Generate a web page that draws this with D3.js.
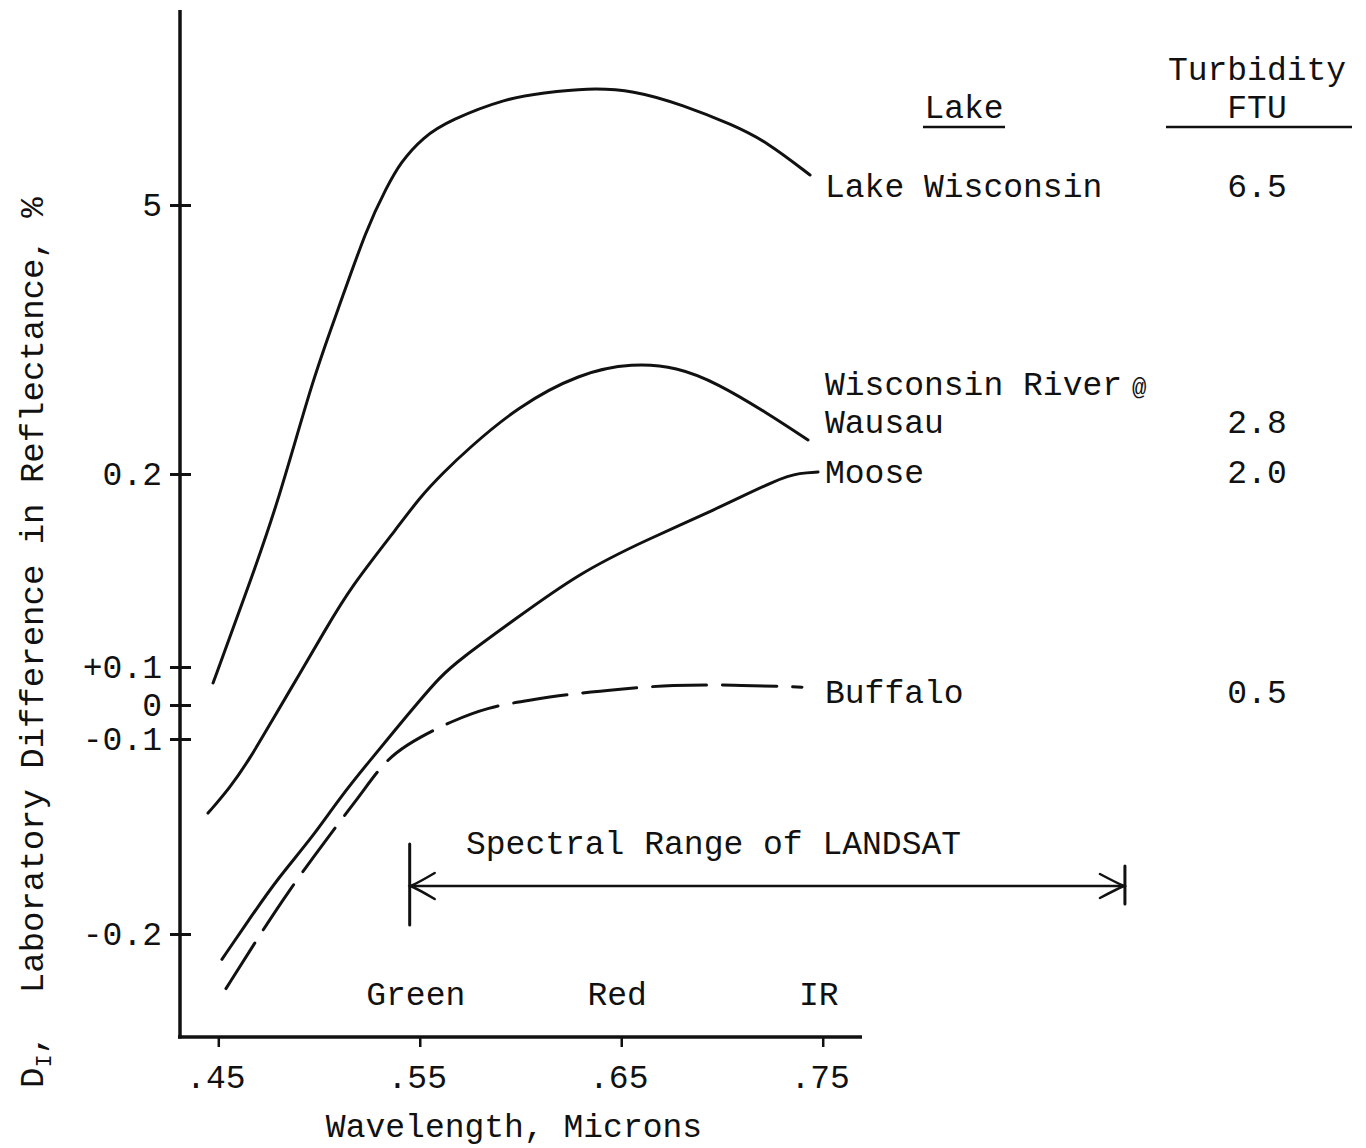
<!DOCTYPE html>
<html>
<head>
<meta charset="utf-8">
<script src="https://cdn.jsdelivr.net/npm/d3@7"></script>
<style>
  html, body { margin: 0; padding: 0; background: #fff; }
  svg { display: block; }
  text { font-family: "Liberation Mono", "DejaVu Sans Mono", monospace; font-size: 33px; fill: #111; }
</style>
</head>
<body>
<svg id="chart" width="1366" height="1148"></svg>
<script>
// Spectral curves: [wavelength in microns, laboratory difference in reflectance in %]
const lakeWisconsin = [
  [0.4474, 0.058], [0.4633, 0.137], [0.4791, 0.183], [0.4970, 1.913],
  [0.5089, 3.073], [0.5238, 4.607], [0.5337, 5.321], [0.5402, 5.749], [0.5516, 6.213],
  [0.5650, 6.517], [0.5933, 6.909], [0.6112, 6.999], [0.6330, 7.088], [0.6558, 7.052],
  [0.6807, 6.784], [0.7055, 6.428], [0.7224, 6.124], [0.7437, 5.535]
];
const wisconsinRiver = [
  [0.4449, -0.138], [0.4558, -0.125], [0.4657, -0.110], [0.4757, -0.056], [0.4906, 0.084],
  [0.5030, 0.119], [0.5154, 0.141], [0.5402, 0.174], [0.5501, 0.188], [0.5620, 0.236],
  [0.5734, 0.628], [0.5983, 1.396], [0.6295, 2.002], [0.6558, 2.181], [0.6777, 2.109],
  [0.6975, 1.824], [0.7224, 1.288], [0.7427, 0.807]
];
const moose = [
  [0.4518, -0.213], [0.4657, -0.192], [0.4791, -0.172], [0.4970, -0.150], [0.5104, -0.130],
  [0.5253, -0.111], [0.5377, -0.074], [0.5481, 0.000], [0.5600, 0.074], [0.5700, 0.104],
  [0.5963, 0.124], [0.6295, 0.149], [0.6628, 0.166], [0.6955, 0.181], [0.7288, 0.198],
  [0.7387, 0.218], [0.7477, 0.236]
];
const buffalo = [
  [0.4538, -0.228], [0.4672, -0.206], [0.4841, -0.179], [0.5054, -0.149], [0.5203, -0.129],
  [0.5293, -0.116], [0.5377, -0.107], [0.5501, -0.094], [0.5650, -0.050], [0.5839, -0.006],
  [0.6047, 0.013], [0.6246, 0.029], [0.6494, 0.042], [0.6752, 0.053], [0.7050, 0.053],
  [0.7397, 0.047]
];

const lakeNames = [["Lake Wisconsin"], ["Wisconsin River", "Wausau"], ["Moose"], ["Buffalo"]];
const turbidityFTU = ["6.5", "2.8", "2.0", "0.5"];
const lineKinds = ["solid", "solid", "solid", "dashed"];

const xTickValues = [0.45, 0.55, 0.65, 0.75];
const xTickLabels = [".45", ".55", ".65", ".75"];
const yTickValues = [-0.2, -0.1, 0, 0.1, 0.2, 5];
const yTickLabels = ["-0.2", "-0.1", "0", "+0.1", "0.2", "5"];

const bandNames = ["Green", "Red", "IR"];
const bandCenters = [0.55, 0.65, 0.75];
const landsatRange = [0.545, 0.90];

// ---- layout ----
const svg = d3.select("#chart");
const plot = { left: 180, right: 862, top: 10, bottom: 1037 };

const x = d3.scaleLinear().domain([0.43, 0.7695]).range([plot.left - 2, plot.right]);
// The vertical axis is broken into uneven stretches between its labelled values
const y = d3.scaleLinear().domain(yTickValues).range([934, 739, 705, 667, 474, 205]);

const ink = "#111";

// y axis
const yAxisG = svg.append("g").attr("transform", `translate(${plot.left},0)`)
  .call(d3.axisLeft(y).tickValues(yTickValues)
    .tickFormat(d => yTickLabels[yTickValues.indexOf(d)])
    .tickSize(10).tickPadding(8));
yAxisG.select(".domain").remove();
yAxisG.selectAll(".tick line").attr("x1", 11).attr("stroke", ink).attr("stroke-width", 3);
yAxisG.append("line").attr("x1", 0).attr("x2", 0).attr("y1", plot.top).attr("y2", plot.bottom + 1.5)
  .attr("stroke", ink).attr("stroke-width", 3.5);

// x axis
const xAxisG = svg.append("g").attr("transform", `translate(0,${plot.bottom})`)
  .call(d3.axisBottom(x).tickValues(xTickValues)
    .tickFormat(d => xTickLabels[xTickValues.indexOf(d)])
    .tickSize(10).tickPadding(18));
xAxisG.select(".domain").remove();
xAxisG.selectAll(".tick line").attr("stroke", ink).attr("stroke-width", 2.5);
xAxisG.selectAll(".tick text").attr("dx", -3);
xAxisG.append("line").attr("x1", plot.left - 2).attr("x2", plot.right).attr("y1", 0).attr("y2", 0)
  .attr("stroke", ink).attr("stroke-width", 3.5);

// axis titles
svg.append("text").attr("x", 514).attr("y", 1137).attr("text-anchor", "middle")
  .text("Wavelength, Microns");

const yTitle = svg.append("text").attr("transform", "translate(43,1088) rotate(-90)")
  .style("white-space", "pre").style("font-size", "34px");
yTitle.append("tspan").text("D");
yTitle.append("tspan").attr("dy", 8).style("font-size", "22px").text("I");
yTitle.append("tspan").attr("dy", -8).text(",  Laboratory Difference in Reflectance, %");

// curves
const line = d3.line().x(d => x(d[0])).y(d => y(d[1])).curve(d3.curveBasis);
const series = [lakeWisconsin, wisconsinRiver, moose, buffalo];
svg.append("g").selectAll("path").data(series).join("path")
  .attr("d", line)
  .attr("fill", "none")
  .attr("stroke", ink)
  .attr("stroke-width", 3)
  .attr("stroke-linecap", "round")
  .attr("stroke-dasharray", (d, i) => lineKinds[i] === "dashed" ? "54,16" : null);

// lake / turbidity table
const nameX = 825, ftuX = 1257, lineGap = 38;
const rowBaselines = [197, 433, 483, 703];
svg.append("text").attr("x", 964).attr("y", 118).attr("text-anchor", "middle").text("Lake");
svg.append("line").attr("x1", 923).attr("x2", 1005).attr("y1", 127).attr("y2", 127)
  .attr("stroke", ink).attr("stroke-width", 2.5);
svg.append("text").attr("x", ftuX).attr("y", 80).attr("text-anchor", "middle").text("Turbidity");
svg.append("text").attr("x", ftuX).attr("y", 118).attr("text-anchor", "middle").text("FTU");
svg.append("line").attr("x1", 1166).attr("x2", 1352).attr("y1", 127).attr("y2", 127)
  .attr("stroke", ink).attr("stroke-width", 2.5);

lakeNames.forEach((lines, i) => {
  const base = rowBaselines[i];
  lines.forEach((s, j) => {
    const t = svg.append("text").attr("x", nameX)
      .attr("y", base - (lines.length - 1 - j) * lineGap).text(s);
    if (j === 0 && lines.length > 1) {
      t.append("tspan").attr("dx", 10).style("font-size", "24px").text("@");
    }
  });
  svg.append("text").attr("x", ftuX).attr("y", base).attr("text-anchor", "middle").text(turbidityFTU[i]);
});

// spectral bands
bandNames.forEach((b, i) => {
  svg.append("text").attr("x", x(bandCenters[i]) - 4).attr("y", 1005)
    .attr("text-anchor", "middle").text(b);
});

// LANDSAT spectral range bracket
const arrowY = 886;
const xa = x(landsatRange[0]), xb = x(landsatRange[1]);
const br = svg.append("g").attr("stroke", ink).attr("fill", "none").attr("stroke-linecap", "round");
br.append("line").attr("x1", xa).attr("x2", xa).attr("y1", 844).attr("y2", 925).attr("stroke-width", 3);
br.append("line").attr("x1", xb).attr("x2", xb).attr("y1", 866).attr("y2", 904).attr("stroke-width", 3);
br.append("line").attr("x1", xa).attr("x2", xb).attr("y1", arrowY).attr("y2", arrowY).attr("stroke-width", 2.5);
br.append("path").attr("d", `M${xa + 25},${arrowY - 13} Q${xa + 8},${arrowY - 3} ${xa + 1},${arrowY} Q${xa + 8},${arrowY + 3} ${xa + 25},${arrowY + 13}`)
  .attr("stroke-width", 2.5);
br.append("path").attr("d", `M${xb - 25},${arrowY - 12} Q${xb - 8},${arrowY - 3} ${xb - 1},${arrowY} Q${xb - 8},${arrowY + 3} ${xb - 25},${arrowY + 12}`)
  .attr("stroke-width", 2.5);
svg.append("text").attr("x", 466).attr("y", 854).text("Spectral Range of LANDSAT");
</script>
</body>
</html>
